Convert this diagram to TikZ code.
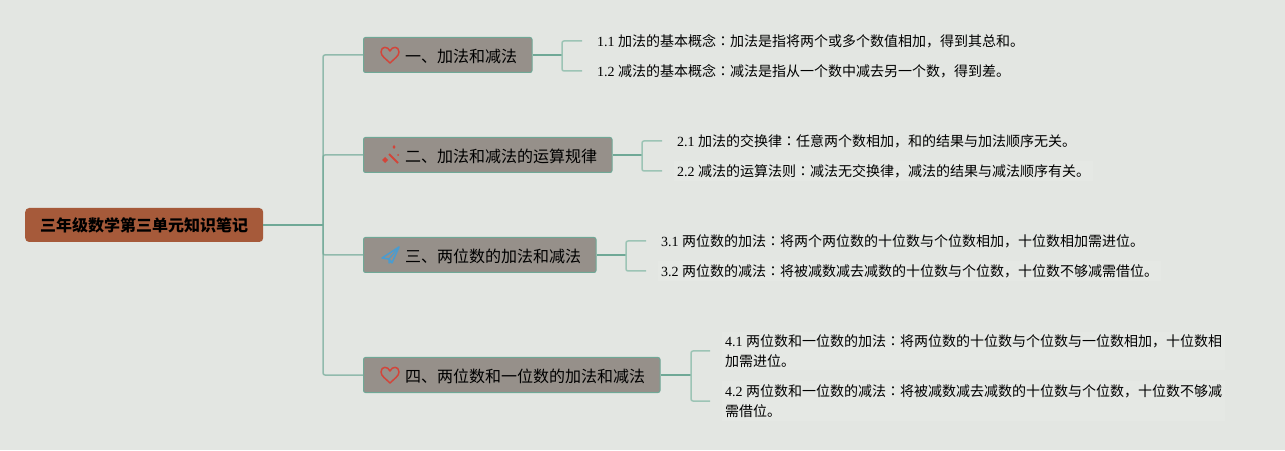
\documentclass[tikz,border=0pt]{standalone}
\usepackage{fontspec}
\setmainfont{Liberation Serif}
\newfontfamily\cjk{Noto Sans CJK SC}
\newfontfamily\cjkcolon{Noto Sans CJK JP}
\newcommand{\cl}{{\cjkcolon ：}}

\definecolor{paper}{HTML}{E3E6E2}
\definecolor{leaflit}{HTML}{E5E8E4}
\definecolor{rootfill}{HTML}{A65A3A}
\definecolor{branchfill}{HTML}{96908A}
\definecolor{linkdark}{HTML}{6FA896}
\definecolor{linklight}{HTML}{9CC4B5}
\definecolor{heartred}{HTML}{D2453A}
\definecolor{planeblue}{HTML}{4A9CD0}

\tikzset{
  rootbox/.style={draw=none, fill=rootfill, rounded corners=4pt, minimum height=34pt,
    inner xsep=0pt, inner ysep=0pt, anchor=west, text=black, font=\fontsize{16}{16}\selectfont\cjk\bfseries},
  branchbox/.style={draw=linkdark, line width=1pt, fill=branchfill, rounded corners=2pt, minimum height=35pt,
    inner sep=0pt, anchor=west},
  branchtext/.style={anchor=west, inner sep=0pt, text=black, font=\fontsize{16}{16}\selectfont\cjk},
  leaf/.style={anchor=west, inner xsep=3pt, inner ysep=3pt, align=left, text=black,
    font=\fontsize{14}{20}\selectfont},
  litleaf/.style={leaf, fill=leaflit},
  trunk/.style={draw=linkdark, draw opacity=0.7, line width=1.5pt, rounded corners=2pt},
  stem/.style={draw=linkdark, line width=2pt},
  twig/.style={draw=linklight, line width=1.5pt, rounded corners=2pt},
}

% icons, drawn round their own centre
\newcommand{\iconheart}[2]{
  \draw[heartred, line width=1.5pt, line join=round] (#1,#2-8)
    .. controls (#1-4,#2-4) and (#1-9,#2-1) .. (#1-9,#2+3)
    .. controls (#1-9,#2+9) and (#1-2,#2+9) .. (#1,#2+4)
    .. controls (#1+2,#2+9) and (#1+9,#2+9) .. (#1+9,#2+3)
    .. controls (#1+9,#2-1) and (#1+4,#2-4) .. (#1,#2-8) -- cycle;
}
\newcommand{\iconwand}[2]{
  \draw[heartred, line width=2pt] (#1-1,#2+1) -- (#1+8,#2-8);
  \fill[heartred] (#1-8,#2-5) -- (#1-5,#2-2) -- (#1-2,#2-5) -- (#1-5,#2-8) -- cycle;
  \fill[heartred] (#1+2.5,#2+8) -- (#1+4,#2+10) -- (#1+5.5,#2+8) -- (#1+4,#2+6) -- cycle;
  \fill[heartred] (#1+8,#2) circle (1);
}
\newcommand{\iconplane}[2]{
  \draw[planeblue, line width=1.5pt, line join=round] (#1-8,#2-3) -- (#1+9,#2+8) -- (#1+2,#2-8) -- (#1-1,#2-4) -- cycle;
  \draw[planeblue, line width=1.2pt, line join=round] (#1+9,#2+8) -- (#1-1,#2-4) -- (#1-1,#2-8) -- (#1+2,#2-6);
}

\begin{document}
\begin{tikzpicture}[x=1pt, y=1pt]
\useasboundingbox[fill=paper] (0,0) rectangle (1285,450);

% root and branches
\node[rootbox, minimum width=238pt] (root) at (25,225) {三年级数学第三单元知识笔记};
\node[branchbox, minimum width=168.5pt] (one) at (363,395) {};
\node[branchbox, minimum width=248.5pt] (two) at (363,295) {};
\node[branchbox, minimum width=232.5pt] (three) at (363,195) {};
\node[branchbox, minimum width=296.5pt] (four) at (363,75) {};

\node[branchtext] (onetext) at (405,394) {一、加法和减法};
\node[branchtext] (twotext) at (405,294) {二、加法和减法的运算规律};
\node[branchtext] (threetext) at (405,194) {三、两位数的加法和减法};
\node[branchtext] (fourtext) at (405,74) {四、两位数和一位数的加法和减法};

\iconheart{390}{395}
\iconwand{390}{295}
\iconplane{390}{195}
\iconheart{390}{75}

% leaves
\node[leaf] (a1) at (594,409) {1.1 {\cjk 加法的基本概念\cl 加法是指将两个或多个数值相加，得到其总和。}};
\node[leaf] (a2) at (594,379) {1.2 {\cjk 减法的基本概念\cl 减法是指从一个数中减去另一个数，得到差。}};
\node[leaf] (b1) at (674,309) {2.1 {\cjk 加法的交换律\cl 任意两个数相加，和的结果与加法顺序无关。}};
\node[litleaf] (b2) at (674,279) {2.2 {\cjk 减法的运算法则\cl 减法无交换律，减法的结果与减法顺序有关。}};
\node[leaf] (c1) at (658,209) {3.1 {\cjk 两位数的加法\cl 将两个两位数的十位数与个位数相加，十位数相加需进位。}};
\node[litleaf] (c2) at (658,179) {3.2 {\cjk 两位数的减法\cl 将被减数减去减数的十位数与个位数，十位数不够减需借位。}};
\node[litleaf] (d1) at (722,99) {4.1 {\cjk 两位数和一位数的加法\cl 将两位数的十位数与个位数与一位数相加，十位数相}\\{\cjk 加需进位。}};
\node[litleaf] (d2) at (722,49) {4.2 {\cjk 两位数和一位数的减法\cl 将被减数减去减数的十位数与个位数，十位数不够减}\\{\cjk 需借位。}};

% connectors
\coordinate (fork) at (323,225);
\draw[stem] (root.east) -- (fork);
\foreach \b in {one,two,three,four} {
  \draw[trunk] (fork) |- (\b.west);
}
\foreach \b/\x/\p/\q in {one/562/a1/a2, two/642/b1/b2, three/626/c1/c2, four/691/d1/d2} {
  \coordinate (elbow) at (\x,0);
  \draw[stem] (\b.east) -- (\b.east -| elbow);
  \draw[twig] ([xshift=-12pt]\p.west) -| (elbow |- \b.east) |- ([xshift=-12pt]\q.west);
}
\end{tikzpicture}
\end{document}
